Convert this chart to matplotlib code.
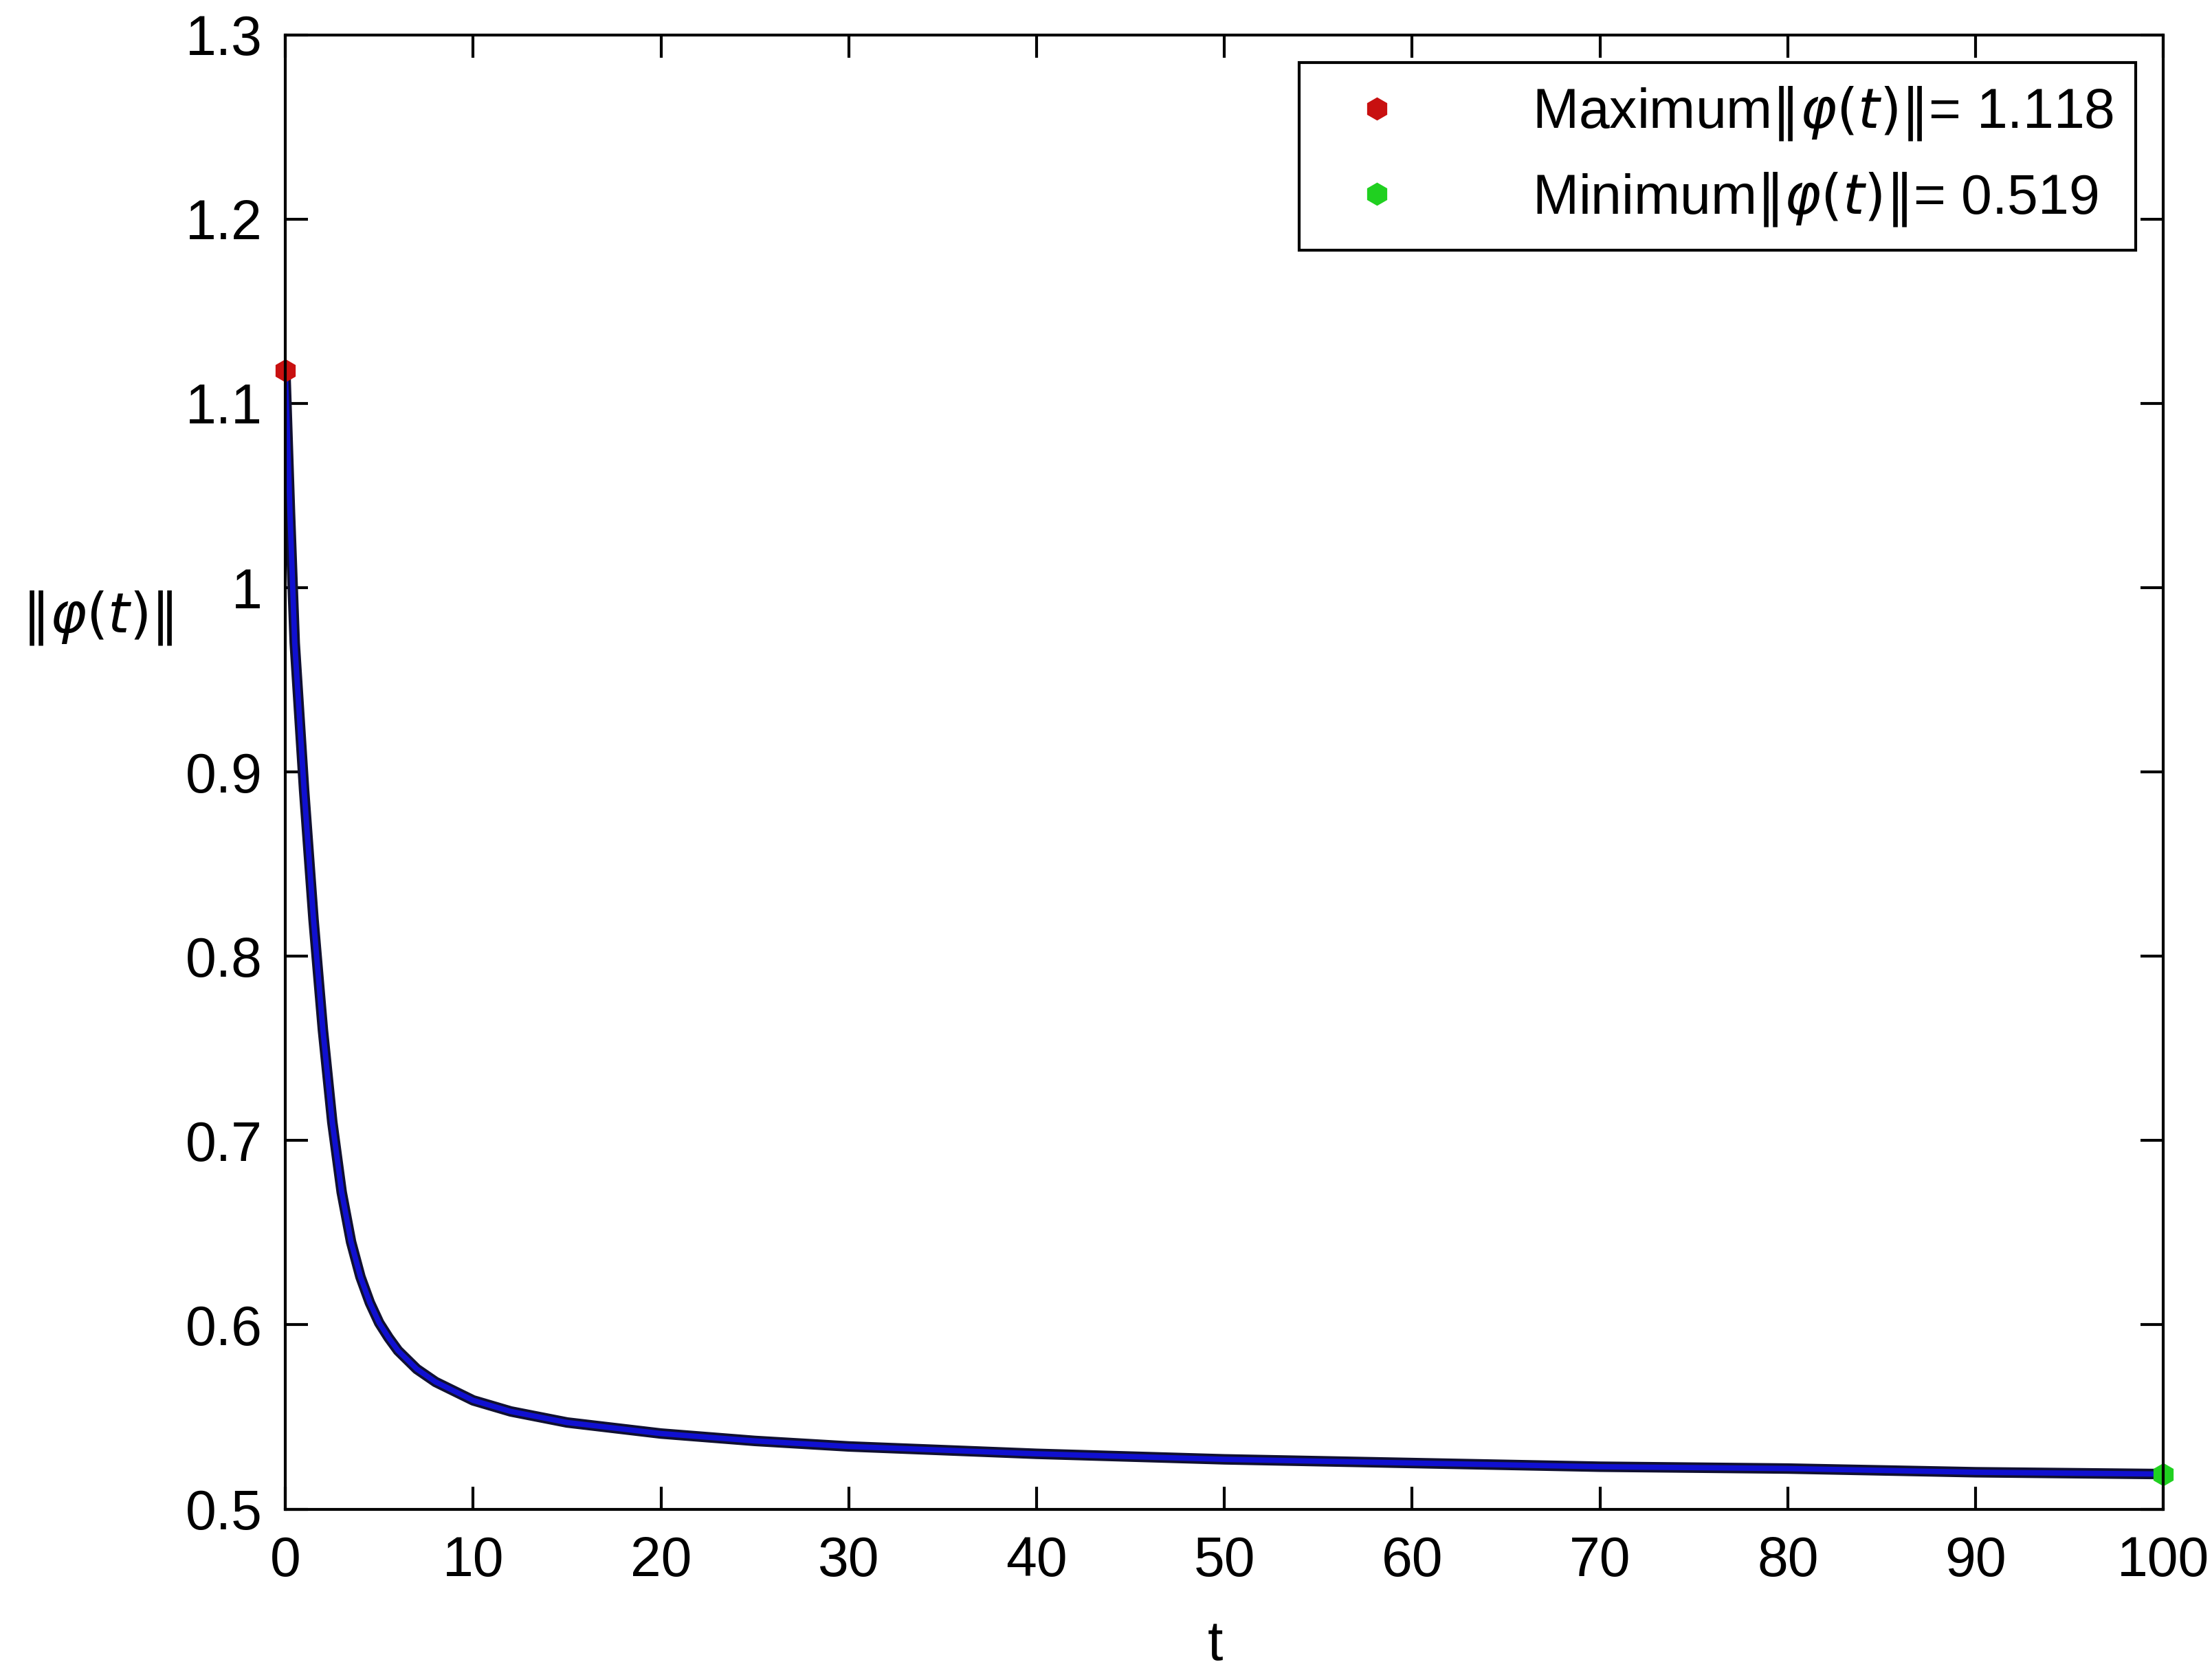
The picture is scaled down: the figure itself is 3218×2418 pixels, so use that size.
import numpy as np
import matplotlib.pyplot as plt

plt.rcParams['font.family'] = ['Liberation Sans', 'DejaVu Sans']

t = [0, 0.25, 0.5, 1, 1.5, 2, 2.5, 3, 3.5, 4, 4.5, 5, 5.5, 6, 7, 8, 10, 12, 15, 20, 25, 30, 40, 50, 60, 70, 80, 90, 100]
norm = [1.118, 1.04, 0.97, 0.89, 0.82, 0.76, 0.71, 0.672, 0.645, 0.626, 0.612, 0.601, 0.593, 0.586, 0.576, 0.569, 0.559, 0.553, 0.547, 0.541, 0.537, 0.534, 0.530, 0.527, 0.525, 0.523, 0.522, 0.520, 0.519]
t_max, v_max = 0, 1.118
t_min, v_min = 100, 0.519

fig = plt.figure(figsize=(16.09, 12.09), dpi=200)
ax = fig.add_axes([0.129, 0.092, 0.849, 0.887])

ax.plot(t, norm, color='#101030', lw=5.5)
ax.plot(t, norm, color='#1010d0', lw=2.8)
ax.plot(t_max, v_max, 'h', color='#c81010', ms=11, clip_on=False,
        label=r'Maximum$\|\varphi(t)\|$= 1.118')
ax.plot(t_min, v_min, 'h', color='#20d020', ms=11, clip_on=False,
        label=r'Minimum$\|\varphi(t)\|$= 0.519')

ax.set_xlim(0, 100)
ax.set_ylim(0.5, 1.3)
ax.set_xticks(np.arange(0, 101, 10))
ax.set_yticks([0.5, 0.6, 0.7, 0.8, 0.9, 1, 1.1, 1.2, 1.3])
ax.set_yticklabels(['0.5', '0.6', '0.7', '0.8', '0.9', '1', '1.1', '1.2', '1.3'])
ax.tick_params(direction='in', top=True, right=True, labelsize=29, length=12, width=1.5)
ax.tick_params(axis='x', pad=14)
ax.tick_params(axis='y', pad=12)
for s in ax.spines.values():
    s.set_linewidth(1.5)
ax.set_xlabel('t', fontsize=29)
ax.xaxis.set_label_coords(0.495, -0.075)
ax.set_ylabel(r'$\|\varphi(t)\|$', fontsize=29, rotation=0)
ax.yaxis.set_label_coords(-0.1, 0.585)

leg = ax.legend(loc='upper right', fontsize=29, fancybox=False, edgecolor='black',
                handletextpad=1.8, borderpad=0.4, framealpha=1)
leg.get_frame().set_linewidth(1.5)

fig.savefig('out.png')
